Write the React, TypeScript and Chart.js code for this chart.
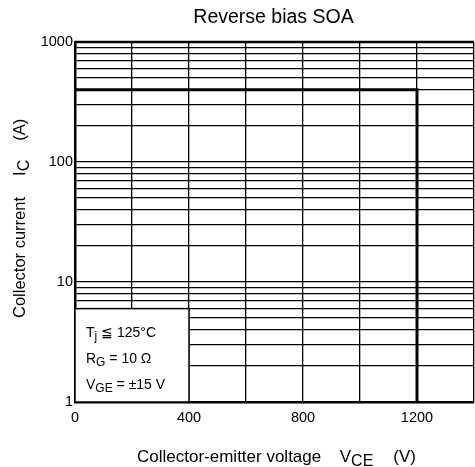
import React, { useEffect, useRef } from "react";
import { Chart, registerables } from "chart.js";

Chart.register(...registerables);

const TITLE = "Reverse bias SOA";
const X_MIN = 0;
const X_MAX = 1400;
const X_STEP = 200;
const X_LABELED = [0, 400, 800, 1200];
const Y_MIN = 1;
const Y_MAX = 1000;
const Y_LABELED = [1, 10, 100, 1000];
const SOA_VCE = [0, 1200, 1200];
const SOA_IC = [400, 400, 1];
const NOTE_BOX_VCE = [0, 400];
const NOTE_BOX_IC = [1, 6];
const NOTE_LINES: [string, string, string][] = [
  ["T", "j", " \u2266 125\u00B0C"],
  ["R", "G", " = 10 \u03A9"],
  ["V", "GE", " = \u00B115 V"],
];
const X_TITLE = ["Collector-emitter voltage", "V", "CE", "(V)"];
const Y_TITLE = ["Collector current", "I", "C", "(A)"];

const FONT = "'Liberation Sans', Arial, sans-serif";

type Seg = { t: string; size: number; dy?: number; gap?: number };

function drawSegs(ctx: CanvasRenderingContext2D, segs: Seg[], x: number, y: number) {
  ctx.textAlign = "left";
  ctx.textBaseline = "alphabetic";
  let sx = x;
  for (const s of segs) {
    sx += s.gap || 0;
    ctx.font = `${s.size}px ${FONT}`;
    ctx.fillText(s.t, sx, y + (s.dy || 0));
    sx += ctx.measureText(s.t).width;
  }
}

function yGridValues(): number[] {
  const out: number[] = [];
  for (let d = Y_MIN; d < Y_MAX; d *= 10) {
    for (let m = 1; m <= 9; m++) out.push(m * d);
  }
  out.push(Y_MAX);
  return out;
}

const overlayPlugin = {
  id: "overlay",
  afterDatasetsDraw(chart: any) {
    const ctx: CanvasRenderingContext2D = chart.ctx;
    const xs = chart.scales.x;
    const ys = chart.scales.y;
    const area = chart.chartArea;
    ctx.save();
    // note box
    const bx0 = xs.getPixelForValue(NOTE_BOX_VCE[0]);
    const bx1 = xs.getPixelForValue(NOTE_BOX_VCE[1]);
    const by0 = ys.getPixelForValue(NOTE_BOX_IC[1]);
    const by1 = ys.getPixelForValue(NOTE_BOX_IC[0]);
    ctx.fillStyle = "#fff";
    ctx.fillRect(bx0, by0, bx1 - bx0, by1 - by0);
    ctx.strokeStyle = "#000";
    ctx.lineWidth = 1.5;
    ctx.strokeRect(bx0, by0, bx1 - bx0, by1 - by0);
    ctx.fillStyle = "#000";
    NOTE_LINES.forEach((ln, i) => {
      drawSegs(
        ctx,
        [
          { t: ln[0], size: 14 },
          { t: ln[1], size: 12, dy: 3 },
          { t: ln[2], size: 14 },
        ],
        bx0 + 11,
        by0 + 28 + i * 26
      );
    });
    // top border
    ctx.lineWidth = 2.5;
    ctx.beginPath();
    ctx.moveTo(area.left, area.top);
    ctx.lineTo(area.right, area.top);
    ctx.stroke();
    ctx.restore();
  },
  afterDraw(chart: any) {
    const ctx: CanvasRenderingContext2D = chart.ctx;
    const area = chart.chartArea;
    ctx.save();
    ctx.fillStyle = "#000";
    ctx.font = `19.5px ${FONT}`;
    ctx.textAlign = "center";
    ctx.textBaseline = "alphabetic";
    ctx.fillText(TITLE, (area.left + area.right) / 2 - 1, 23);
    drawSegs(
      ctx,
      [
        { t: X_TITLE[0], size: 17 },
        { t: X_TITLE[1], size: 17, gap: 18.5 },
        { t: X_TITLE[2], size: 16, dy: 4 },
        { t: X_TITLE[3], size: 17, gap: 20 },
      ],
      137,
      461.5
    );
    ctx.translate(25, 318);
    ctx.rotate(-Math.PI / 2);
    drawSegs(
      ctx,
      [
        { t: Y_TITLE[0], size: 16.5 },
        { t: Y_TITLE[1], size: 16.5, gap: 21 },
        { t: Y_TITLE[2], size: 16, dy: 3.5 },
        { t: Y_TITLE[3], size: 16.5, gap: 19 },
      ],
      0,
      0
    );
    ctx.restore();
  },
};

export default function App() {
  const ref = useRef<HTMLCanvasElement | null>(null);
  useEffect(() => {
    if (!ref.current) return;
    const chart = new Chart(ref.current, {
      type: "line",
      data: {
        datasets: [
          {
            data: SOA_VCE.map((v, i) => ({ x: v, y: SOA_IC[i] })),
            borderColor: "#000",
            borderWidth: 3,
            pointRadius: 0,
            fill: false,
            tension: 0,
          },
        ],
      },
      options: {
        animation: false,
        responsive: false,
        events: [],
        layout: { padding: { top: 42, right: 1, left: 0, bottom: 0 } },
        plugins: { legend: { display: false }, tooltip: { enabled: false }, title: { display: false } },
        scales: {
          x: {
            type: "linear",
            min: X_MIN,
            max: X_MAX,
            afterFit: (s: any) => {
              s.height = 65;
              s.paddingRight = 0;
              s.paddingLeft = 0;
            },
            ticks: {
              stepSize: X_STEP,
              autoSkip: false,
              maxRotation: 0,
              padding: 7.5,
              color: "#000",
              font: { family: FONT, size: 14.5 },
              callback: (v: any) => (X_LABELED.includes(Number(v)) ? String(v) : ""),
            },
            grid: { color: "#000", lineWidth: 1.3, drawTicks: false },
            border: { color: "#000", width: 2.5 },
          },
          y: {
            type: "logarithmic",
            min: Y_MIN,
            max: Y_MAX,
            afterFit: (s: any) => {
              s.width = 75;
              s.paddingTop = 0;
              s.paddingBottom = 0;
            },
            afterBuildTicks: (s: any) => {
              s.ticks = yGridValues().map((v) => ({ value: v }));
            },
            ticks: {
              autoSkip: false,
              padding: 2,
              color: "#000",
              font: { family: FONT, size: 14.5 },
              callback: (v: any) => (Y_LABELED.includes(Number(v)) ? String(v) : ""),
            },
            grid: {
              color: "#000",
              lineWidth: 1.3,
              drawTicks: false,
            },
            border: { color: "#000", width: 2.5 },
          },
        },
      },
      plugins: [overlayPlugin],
    } as any);
    return () => chart.destroy();
  }, []);
  return (
    <div style={{ position: "absolute", left: 0, top: 0, width: 475, height: 467, background: "#fff" }}>
      <canvas ref={ref} width={475} height={467} />
    </div>
  );
}
